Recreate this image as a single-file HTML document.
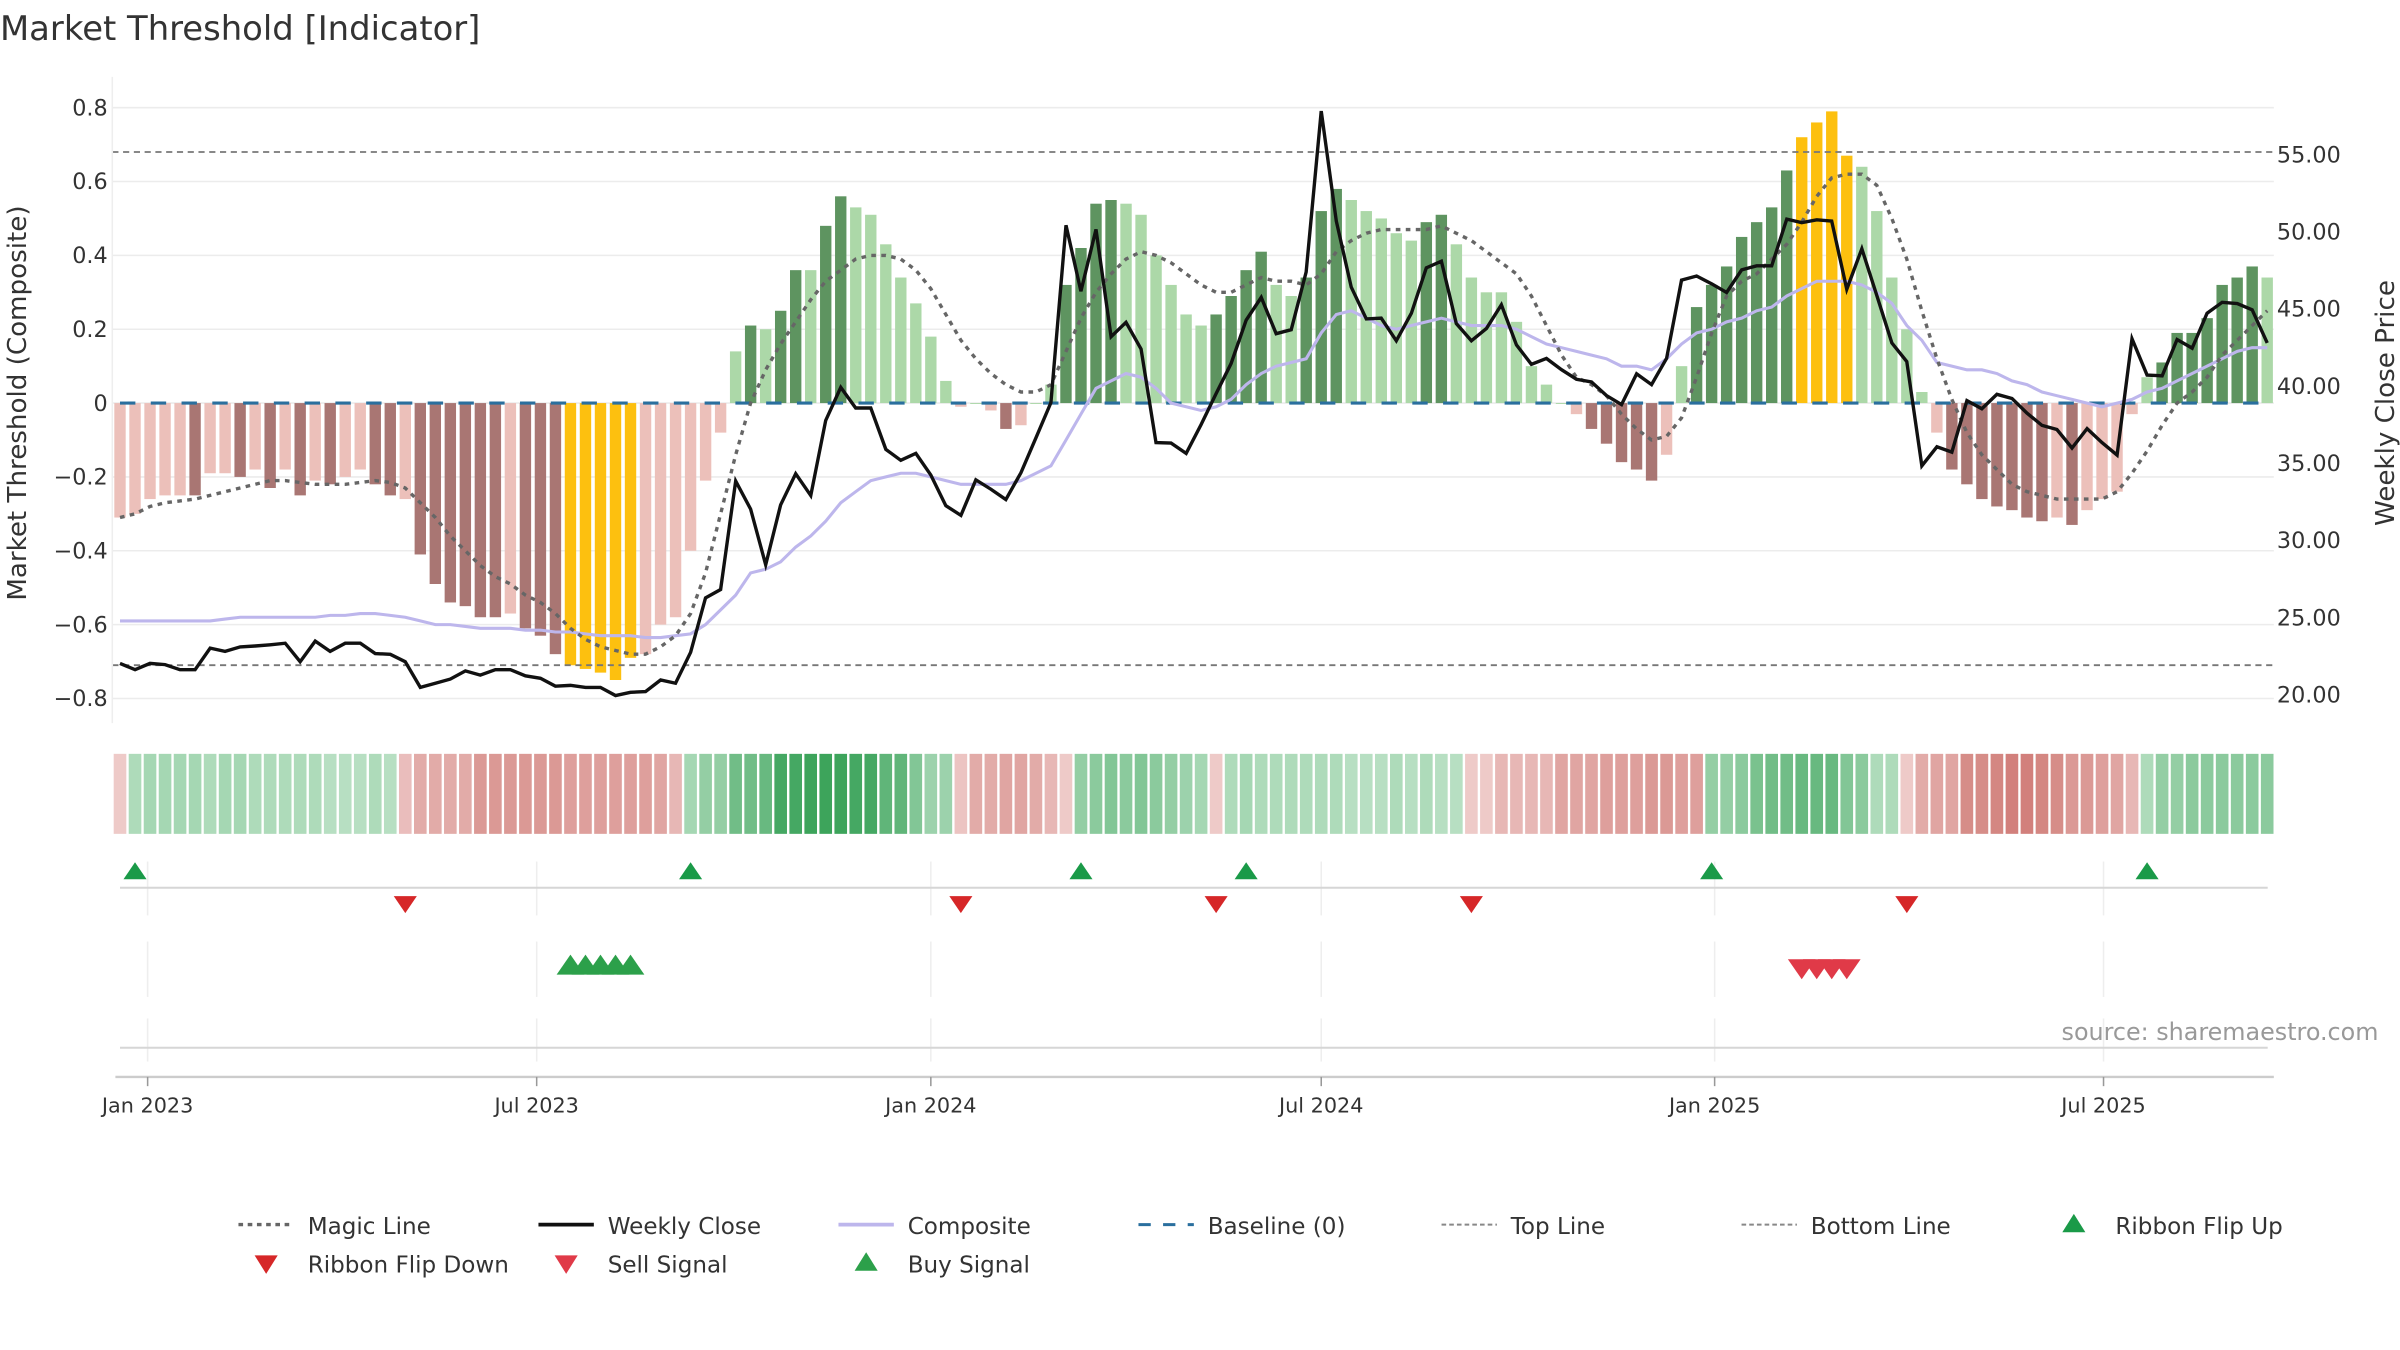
<!DOCTYPE html>
<html><head><meta charset="utf-8"><title>Market Threshold [Indicator]</title>
<style>
html,body{margin:0;padding:0;background:#fff;}
svg{display:block;font-family:"DejaVu Sans","Liberation Sans",sans-serif;}
</style></head>
<body>
<svg id="chart" width="2400" height="1350" viewBox="0 0 1560 877.5" xmlns="http://www.w3.org/2000/svg">
<text x="0" y="26" font-size="22" fill="#333">Market Threshold [Indicator]</text>
<g id="grid"></g>
<g id="bars"></g>
<g id="lines"></g>
<g id="axes"></g>
<g id="ribbon"></g>
<g id="signals"></g>
<text transform="translate(17,262) rotate(-90)" text-anchor="middle" font-size="17" fill="#333">Market Threshold (Composite)</text>
<text transform="translate(1556,262) rotate(-90)" text-anchor="middle" font-size="17" fill="#333">Weekly Close Price</text>
<text x="1546" y="676" text-anchor="end" font-size="15.5" fill="#999">source: sharemaestro.com</text>
<g id="legend"></g>
</svg>
<script>
const composite = [-0.31,-0.30,-0.26,-0.25,-0.25,-0.25,-0.19,-0.19,-0.20,-0.18,-0.23,-0.18,-0.25,-0.21,-0.22,-0.20,-0.18,-0.22,-0.25,-0.26,
-0.41,-0.49,-0.54,-0.55,-0.58,-0.58,-0.57,-0.61,-0.63,-0.68,-0.71,-0.72,-0.73,-0.75,-0.69,-0.68,-0.60,-0.58,-0.40,-0.21,
-0.08,0.14,0.21,0.20,0.25,0.36,0.36,0.48,0.56,0.53,0.51,0.43,0.34,0.27,0.18,0.06,-0.01,0.00,-0.02,-0.07,
-0.06,0.00,0.05,0.32,0.42,0.54,0.55,0.54,0.51,0.40,0.32,0.24,0.21,0.24,0.29,0.36,0.41,0.32,0.29,0.34,
0.52,0.58,0.55,0.52,0.50,0.46,0.44,0.49,0.51,0.43,0.34,0.30,0.30,0.22,0.10,0.05,0.00,-0.03,-0.07,-0.11,
-0.16,-0.18,-0.21,-0.14,0.10,0.26,0.32,0.37,0.45,0.49,0.53,0.63,0.72,0.76,0.79,0.67,0.64,0.52,0.34,0.20,
0.03,-0.08,-0.18,-0.22,-0.26,-0.28,-0.29,-0.31,-0.32,-0.31,-0.33,-0.29,-0.26,-0.24,-0.03,0.07,0.11,0.19,0.19,0.23,
0.32,0.34,0.37,0.34];
const barToneSegments = ["lllll","d","ll","d","l","d","l","d","l","d","ll","dd","l","dddddd","l","ddd","yyyyy","lllllll","d","l","dd","l","dd",
"llllllllll","d","lll","dddd","llllll","dddd","ll","ddd","lllll","dd","lllllllll","ddddd","ll","ddddddd","yyyy","llllll","ddddddd","l","d","lllll","ddddddd","l"];
const weeklyClose = [22.03,21.63,22.03,21.95,21.63,21.63,23.02,22.81,23.10,23.16,23.24,23.34,22.14,23.48,22.81,23.34,23.34,22.67,22.62,22.14,
20.48,20.75,21.02,21.55,21.28,21.63,21.63,21.23,21.07,20.56,20.61,20.48,20.48,19.95,20.16,20.21,20.96,20.75,22.75,26.28,
26.82,33.85,32.03,28.42,32.30,34.33,32.91,37.78,39.92,38.58,38.58,35.90,35.19,35.64,34.25,32.25,31.63,33.93,33.32,32.65,
34.39,36.66,38.93,50.43,46.15,50.16,43.20,44.14,42.40,36.34,36.31,35.64,37.51,39.52,41.47,44.28,45.75,43.40,43.66,47.40,
57.83,50.70,46.42,44.36,44.41,42.94,44.73,47.67,48.10,44.06,42.94,43.74,45.27,42.67,41.42,41.79,41.07,40.45,40.27,39.39,
38.80,40.80,40.10,41.80,46.87,47.14,46.63,46.07,47.54,47.80,47.80,50.83,50.60,50.78,50.70,46.28,48.90,45.88,42.80,41.60,
34.84,36.07,35.72,39.06,38.53,39.47,39.20,38.26,37.46,37.19,35.99,37.25,36.34,35.53,43.07,40.72,40.67,43.02,42.46,44.73,
45.43,45.35,44.95,42.80];
const compositeLine = [-0.59,-0.59,-0.59,-0.59,-0.59,-0.59,-0.59,-0.585,-0.58,-0.58,-0.58,-0.58,-0.58,-0.58,-0.575,-0.575,-0.57,-0.57,-0.575,-0.58,
-0.59,-0.60,-0.60,-0.605,-0.61,-0.61,-0.61,-0.615,-0.615,-0.62,-0.62,-0.625,-0.63,-0.63,-0.63,-0.635,-0.635,-0.63,-0.625,-0.60,
-0.56,-0.52,-0.46,-0.45,-0.43,-0.39,-0.36,-0.32,-0.27,-0.24,-0.21,-0.20,-0.19,-0.19,-0.20,-0.21,-0.22,-0.22,-0.22,-0.22,
-0.21,-0.19,-0.17,-0.10,-0.03,0.04,0.06,0.08,0.07,0.04,0.00,-0.01,-0.02,-0.01,0.01,0.05,0.08,0.10,0.11,0.12,
0.19,0.24,0.25,0.23,0.21,0.20,0.21,0.22,0.23,0.22,0.21,0.21,0.21,0.20,0.18,0.16,0.15,0.14,0.13,0.12,
0.10,0.10,0.09,0.12,0.16,0.19,0.20,0.22,0.23,0.25,0.26,0.29,0.31,0.33,0.33,0.33,0.32,0.30,0.27,0.21,
0.17,0.11,0.10,0.09,0.09,0.08,0.06,0.05,0.03,0.02,0.01,0.00,-0.01,0.00,0.01,0.03,0.04,0.06,0.08,0.10,
0.12,0.14,0.15,0.15];
const magicLine = [-0.31,-0.30,-0.28,-0.27,-0.265,-0.26,-0.25,-0.24,-0.23,-0.22,-0.21,-0.21,-0.215,-0.22,-0.22,-0.22,-0.215,-0.21,-0.215,-0.23,
-0.27,-0.31,-0.36,-0.40,-0.44,-0.47,-0.49,-0.52,-0.54,-0.57,-0.61,-0.64,-0.66,-0.67,-0.68,-0.68,-0.66,-0.63,-0.57,-0.46,
-0.30,-0.14,0.00,0.09,0.16,0.22,0.28,0.33,0.36,0.39,0.40,0.40,0.39,0.36,0.31,0.24,0.17,0.12,0.08,0.05,
0.03,0.03,0.05,0.14,0.23,0.30,0.35,0.39,0.41,0.40,0.38,0.35,0.32,0.30,0.30,0.32,0.34,0.33,0.33,0.32,
0.35,0.41,0.44,0.46,0.47,0.47,0.47,0.47,0.48,0.46,0.44,0.41,0.38,0.35,0.29,0.21,0.13,0.07,0.05,0.02,
-0.03,-0.07,-0.10,-0.09,-0.04,0.07,0.19,0.29,0.33,0.35,0.39,0.43,0.49,0.56,0.61,0.62,0.62,0.59,0.50,0.39,
0.25,0.12,0.01,-0.08,-0.14,-0.18,-0.22,-0.24,-0.25,-0.26,-0.26,-0.26,-0.26,-0.24,-0.19,-0.13,-0.06,0.00,0.03,0.07,
0.13,0.17,0.21,0.25];
const ribbon = [-0.2,0.3,0.35,0.35,0.35,0.35,0.3,0.35,0.35,0.3,0.3,0.3,0.3,0.3,0.25,0.25,0.25,0.3,0.25,-0.3,
-0.45,-0.45,-0.45,-0.45,-0.6,-0.6,-0.6,-0.6,-0.6,-0.6,-0.55,-0.55,-0.55,-0.55,-0.55,-0.55,-0.5,-0.35,0.35,0.45,
0.45,0.65,0.65,0.7,0.9,0.9,0.95,0.95,0.95,0.9,0.9,0.75,0.75,0.55,0.4,0.4,-0.25,-0.45,-0.45,-0.5,
-0.5,-0.45,-0.35,-0.2,0.45,0.5,0.55,0.5,0.55,0.5,0.45,0.4,0.35,-0.2,0.3,0.35,0.3,0.3,0.3,0.3,
0.3,0.3,0.25,0.25,0.25,0.3,0.25,0.3,0.25,0.25,-0.2,-0.2,-0.35,-0.35,-0.35,-0.35,-0.5,-0.5,-0.5,-0.55,
-0.55,-0.55,-0.6,-0.6,-0.55,-0.55,0.45,0.45,0.5,0.6,0.65,0.65,0.7,0.7,0.7,0.55,0.5,0.3,0.3,-0.2,
-0.45,-0.5,-0.5,-0.7,-0.7,-0.75,-0.8,-0.8,-0.75,-0.7,-0.6,-0.6,-0.55,-0.5,-0.35,0.3,0.45,0.45,0.5,0.5,
0.5,0.5,0.5,0.5];
const flipUp = [1,38,64,75,106,135];
const flipDown = [19,56,73,90,119];
const buySignals = [30,31,32,33,34];
const sellSignals = [112,113,114,115];
const leftTicks = [-0.8,-0.6,-0.4,-0.2,0,0.2,0.4,0.6,0.8];
const leftTickLabels = ["\u22120.8","\u22120.6","\u22120.4","\u22120.2","0","0.2","0.4","0.6","0.8"];
const rightTicks = [20,25,30,35,40,45,50,55];
const dateTickPos = [1.84,27.75,54.0,80.0,106.2,132.1];
const dateTickLabels = ["Jan 2023","Jul 2023","Jan 2024","Jul 2024","Jan 2025","Jul 2025"];
const topLine = 0.68, bottomLine = -0.71;

const barTone = barToneSegments.join('');
const NS = "http://www.w3.org/2000/svg";
function mk(tag, attrs, parent){const e=document.createElementNS(NS,tag);for(const k in attrs)e.setAttribute(k,attrs[k]);parent.appendChild(e);return e;}
function xOf(i){return 78+9.76*i;}
function yL(v){return 262-240*v;}
function yR(p){return 251-(p-40)*10.03;}
const X0=73,X1=1478;
const grid=document.getElementById('grid'),bars=document.getElementById('bars'),lines=document.getElementById('lines'),axes=document.getElementById('axes'),rib=document.getElementById('ribbon'),sig=document.getElementById('signals'),leg=document.getElementById('legend');

leftTicks.forEach((v,k)=>{
  const g=mk('line',{x1:X0,x2:X1,y1:yL(v),y2:yL(v),stroke:'#ececec','stroke-width':1},grid);
  
  
  const t=mk('text',{x:70,y:yL(v)+5,'text-anchor':'end','font-size':14.5,fill:'#333'},axes);
  t.textContent=leftTickLabels[k];
  
  
});
rightTicks.forEach(p=>{
  const t=mk('text',{x:1480,y:yR(p)+5,'font-size':14.5,fill:'#333'},axes);
  t.textContent=p.toFixed(2);
  
  
});
const sp=mk('line',{x1:X0,x2:X0,y1:50,y2:470,stroke:'#eee','stroke-width':1},axes);



composite.forEach((v,i)=>{
  const t=barTone[i]||'l';
  let c;
  if(t==='y')c='#fdc00f';
  else if(v>=0)c=(t==='d')?'#5e9460':'#acd8a8';
  else c=(t==='d')?'#a97673':'#ecc0ba';
  const y0=yL(0),y1=yL(v);
  const r=mk('rect',{x:xOf(i)-3.7,y:Math.min(y0,y1),width:7.4,height:Math.max(0.6,Math.abs(y1-y0)),fill:c},bars);
  
  
});

function hline(v,name){const l=mk('line',{x1:X0,x2:X1,y1:yL(v),y2:yL(v),stroke:'#777','stroke-width':1.2,'stroke-dasharray':'4,3'},lines);
  
  }
hline(topLine,'top-line');
hline(bottomLine,'bottom-line');
const bl=mk('line',{x1:78,x2:1474,y1:yL(0),y2:yL(0),stroke:'#2a6f9e','stroke-width':2,'stroke-dasharray':'10,10'},lines);



function path(arr,fy){return arr.map((v,i)=>(i?'L':'M')+xOf(i).toFixed(1)+','+fy(v).toFixed(1)).join('');}
const cl=mk('path',{d:path(compositeLine,yL),fill:'none',stroke:'#bdb6ec','stroke-width':2},lines);


const ml=mk('path',{d:path(magicLine,yL),fill:'none',stroke:'#666','stroke-width':2.2,'stroke-dasharray':'3,3.5'},lines);


const wl=mk('path',{d:path(weeklyClose,yR),fill:'none',stroke:'#111','stroke-width':2.2},lines);



function mix(a,b,t){return 'rgb('+a.map((v,k)=>Math.round(v+(b[k]-v)*t)).join(',')+')';}
ribbon.forEach((v,i)=>{
  const m=Math.min(1,Math.abs(v));
  const c=v>=0?mix([226,244,230],[52,160,84],m):mix([248,226,226],[200,104,98],m);
  const r=mk('rect',{x:xOf(i)-4.1,y:490,width:8.2,height:52,fill:c},rib);
  
  
});

[[560,595],[612,648],[662,690]].forEach(([a,b])=>{
  dateTickPos.forEach(p=>{
    const l=mk('line',{x1:xOf(p),x2:xOf(p),y1:a,y2:b,stroke:'#eee','stroke-width':1},sig);
    
    
  });
});
[577,681].forEach(y=>{
  const l=mk('line',{x1:78,x2:1474,y1:y,y2:y,stroke:'#d6d6d6','stroke-width':1.3},sig);
  
  
});
const ax=mk('line',{x1:75,x2:1478,y1:700,y2:700,stroke:'#ccc','stroke-width':1.5},sig);


dateTickPos.forEach((p,k)=>{
  const tk=mk('line',{x1:xOf(p),x2:xOf(p),y1:700,y2:706,stroke:'#999','stroke-width':1},sig);
  
  
  const t=mk('text',{x:xOf(p),y:723,'text-anchor':'middle','font-size':13.5,fill:'#333'},sig);
  t.textContent=dateTickLabels[k];
  
  
});
function triUp(cx,cy,w,h,c,parent){return mk('path',{d:`M${cx-w/2},${cy+h/2}L${cx},${cy-h/2}L${cx+w/2},${cy+h/2}Z`,fill:c},parent);}
function triDown(cx,cy,w,h,c,parent){return mk('path',{d:`M${cx-w/2},${cy-h/2}L${cx},${cy+h/2}L${cx+w/2},${cy-h/2}Z`,fill:c},parent);}
flipUp.forEach(i=>{const t=triUp(xOf(i),566,15,11,'#1a9a48',sig);
  
  });
flipDown.forEach(i=>{const t=triDown(xOf(i),588,15,11,'#d62728',sig);
  
  });
buySignals.forEach(i=>{const t=triUp(xOf(i),627,18,13,'#2ca04a',sig);
  
  });
sellSignals.forEach(i=>{const t=triDown(xOf(i),630,18,13,'#e03a48',sig);
  
  });

const legendItems=[
 {x:155,y:796,label:'Magic Line',kind:'line',stroke:'#666',w:2.2,dash:'3,3'},
 {x:350,y:796,label:'Weekly Close',kind:'line',stroke:'#111',w:2.5,dash:''},
 {x:545,y:796,label:'Composite',kind:'line',stroke:'#bdb6ec',w:2.5,dash:''},
 {x:740,y:796,label:'Baseline (0)',kind:'line',stroke:'#2a6f9e',w:2,dash:'8,8'},
 {x:937,y:796,label:'Top Line',kind:'line',stroke:'#888',w:1.3,dash:'3,2'},
 {x:1132,y:796,label:'Bottom Line',kind:'line',stroke:'#888',w:1.3,dash:'3,2'},
 {x:1330,y:796,label:'Ribbon Flip Up',kind:'up',fill:'#1a9a48'},
 {x:155,y:821,label:'Ribbon Flip Down',kind:'down',fill:'#d62728'},
 {x:350,y:821,label:'Sell Signal',kind:'down',fill:'#e03a48'},
 {x:545,y:821,label:'Buy Signal',kind:'up',fill:'#2ca04a'}];
legendItems.forEach(it=>{
  const g=mk('g',{},leg);
  
  
  if(it.kind==='line'){mk('line',{x1:it.x,x2:it.x+36,y1:it.y,y2:it.y,stroke:it.stroke,'stroke-width':it.w,'stroke-dasharray':it.dash},g);}
  else if(it.kind==='up'){triUp(it.x+18,it.y-1,15,12,it.fill,g);}
  else {triDown(it.x+18,it.y+1,15,12,it.fill,g);}
  const t=mk('text',{x:it.x+45,y:it.y+6,'font-size':15,fill:'#333'},g);
  t.textContent=it.label;
});
</script>
</body></html>
